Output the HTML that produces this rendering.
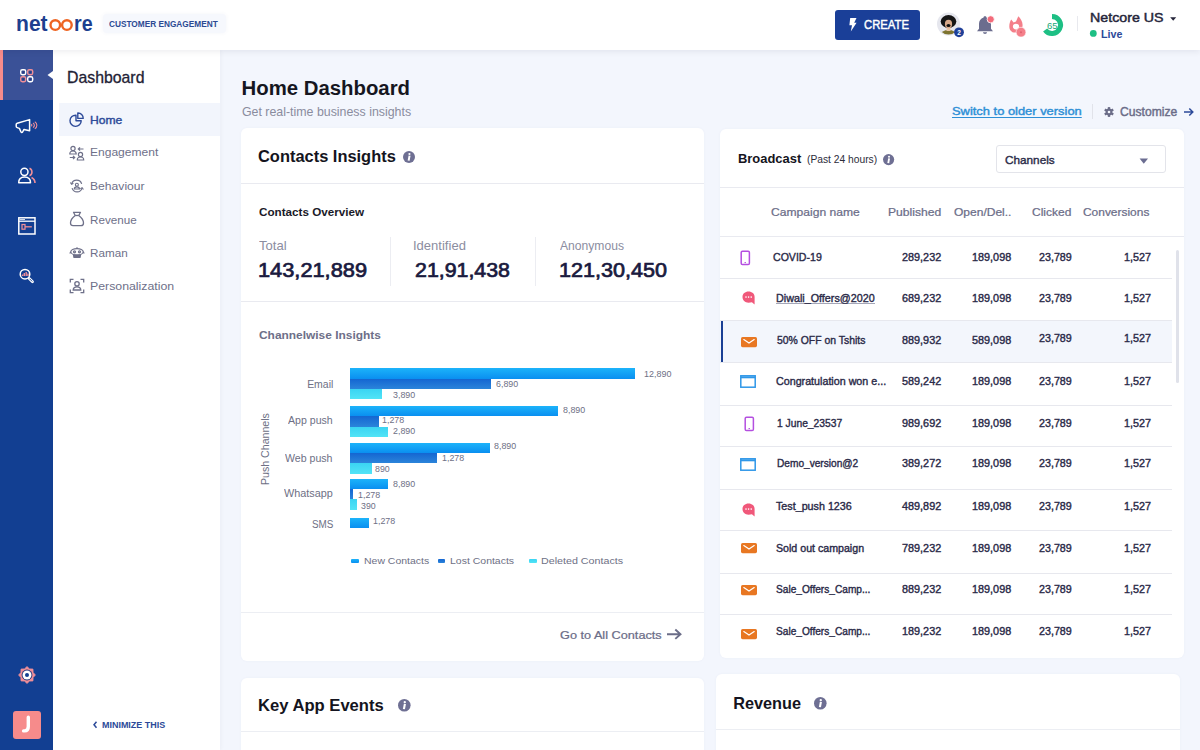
<!DOCTYPE html>
<html><head><meta charset="utf-8">
<style>
*{box-sizing:border-box;margin:0;padding:0}
html,body{width:1200px;height:750px;overflow:hidden;background:#f3f6fd;font-family:"Liberation Sans",sans-serif;color:#1d1d33;position:relative}
.a{position:absolute}
.t{position:absolute;white-space:nowrap}
.card{position:absolute;background:#fff;border-radius:6px}
.hl{position:absolute;height:1px;background:#e9eaf0}
svg{position:absolute;overflow:visible}

</style></head><body>
<div class="a" style="left:0.00px;top:50.00px;width:53.00px;height:700.00px;background:#123f92"></div>
<div class="a" style="left:0.00px;top:50.00px;width:53.00px;height:50.00px;background:#3a5197"></div>
<div class="a" style="left:0.00px;top:50.00px;width:3.00px;height:50.00px;background:#f68b8b"></div>
<div class="a" style="left:53.00px;top:50.00px;width:167.00px;height:700.00px;background:#fff;box-shadow:1px 0 4px rgba(20,20,40,.04)"></div>
<div class="a" style="left:59.00px;top:102.50px;width:161.00px;height:33.00px;background:#f2f5fc"></div>
<div class="a" style="left:0.00px;top:0.00px;width:1200.00px;height:50.00px;background:#fff;box-shadow:0 2px 6px rgba(20,20,40,.07)"></div>
<svg style="left:0.00px;top:0.00px" width="100" height="50" viewBox="0 0 100 50"><g fill="none" stroke="#ee6422" stroke-width="2.4"><circle cx="55.3" cy="25.1" r="4.8"/><circle cx="66.9" cy="25.1" r="4.8"/></g></svg>
<div class="a" style="left:103.00px;top:14.00px;width:123.00px;height:19.00px;background:#f6f8fd;border-radius:4px;box-shadow:0 0 4px rgba(60,80,160,.06)"></div>
<div class="a" style="left:835.00px;top:10.00px;width:85.00px;height:30.00px;background:#1a3f98;border-radius:3px"></div>
<svg style="left:849.00px;top:18.00px" width="8" height="14" viewBox="0 0 8 14"><path d="M1.2 0 L7.5 0 L5.2 4.8 L7.6 4.8 L1.8 13.5 L3 7.2 L0.4 7.2 Z" fill="#fff"/></svg>
<svg style="left:936.00px;top:12.00px" width="26" height="26" viewBox="0 0 26 26"><circle cx="12.5" cy="12" r="11.5" fill="#e6e7ee"/><clipPath id="avc"><circle cx="12.5" cy="12" r="10.5"/></clipPath><g clip-path="url(#avc)"><ellipse cx="12.5" cy="23" rx="8" ry="5" fill="#7d7430"/><rect x="10.5" y="14" width="4" height="5" fill="#e8c4a6"/><ellipse cx="12.5" cy="9.5" rx="7.8" ry="6.5" fill="#151515"/><ellipse cx="12.5" cy="12" rx="3.6" ry="4.2" fill="#d9a98a"/><ellipse cx="12.5" cy="13.6" rx="2" ry="1.5" fill="#111"/></g><circle cx="23" cy="20.3" r="4.9" fill="#1f3f98"/><text x="23" y="22.6" font-size="6.5" font-weight="bold" fill="#fff" text-anchor="middle" font-family="Liberation Sans">2</text></svg>
<svg style="left:976.00px;top:15.00px" width="20" height="20" viewBox="0 0 20 20"><path d="M9 1.2 C10 1.2 10.4 1.8 10.4 2.4 C13.5 3.2 15 5.8 15 9 L15 13.8 L17 16.3 L1 16.3 L3 13.8 L3 9 C3 5.8 4.5 3.2 7.6 2.4 C7.6 1.8 8 1.2 9 1.2 Z" fill="#6b6d8e"/><path d="M7 17.3 L11 17.3 C11 18.5 10 19 9 19 C8 19 7 18.5 7 17.3Z" fill="#6b6d8e"/><circle cx="14.7" cy="4.3" r="3.6" fill="#f36b7a" stroke="#fff" stroke-width="0.8"/></svg>
<svg style="left:1005.00px;top:12.00px" width="26" height="28" viewBox="0 0 26 28"><path d="M6.2 7.5 L8.6 10.4 L11 9.4 L13.3 4.3 C15.6 6.6 17.6 9.6 17.6 13 C17.6 17.5 14 20.6 9.8 20.6 C6.5 20.6 4.3 18 4.3 14.5 C4.3 11.5 5 9.5 6.2 7.5 Z" fill="#f47f8a"/><ellipse cx="11" cy="14.6" rx="3.1" ry="2.8" fill="#fff"/><circle cx="16" cy="20.2" r="4.9" fill="#f47f8a" stroke="#fff" stroke-width="0.6"/><circle cx="16" cy="20.2" r="1" fill="#e0606e"/></svg>
<svg style="left:1040.00px;top:13.00px" width="24" height="24" viewBox="0 0 24 24"><path d="M12 3.5 A8.5 8.5 0 1 1 5.12336 16.9962" fill="none" stroke="#1dbf84" stroke-width="5"/></svg>
<div class="a" style="left:1076.50px;top:16.00px;width:1.00px;height:15.00px;background:#e8e9ee"></div>
<svg style="left:1169.00px;top:16.00px" width="9" height="6" viewBox="0 0 9 6"><path d="M1.2 1.3 L7.2 1.3 L4.2 4.7Z" fill="#25253a"/></svg>
<svg style="left:1089.00px;top:29.00px" width="9" height="9" viewBox="0 0 9 9"><circle cx="4.3" cy="4.4" r="3.4" fill="#1dbf84"/></svg>
<svg style="left:46.00px;top:68.00px" width="8" height="14" viewBox="0 0 8 14"><path d="M1.5 7 L7 3 L7 11Z" fill="#fff"/></svg>
<svg style="left:19.00px;top:68.00px" width="16" height="16" viewBox="0 0 16 16"><rect x="1.7" y="1.7" width="5" height="5" rx="1.6" fill="none" stroke="#fff" stroke-width="1.4"/><rect x="3.4" y="3.4" width="1.6" height="1.6" fill="#253a80"/><rect x="8.7" y="1.7" width="5" height="5" rx="1.6" fill="none" stroke="#f08f98" stroke-width="1.4"/><rect x="10.4" y="3.4" width="1.6" height="1.6" fill="#253a80"/><rect x="1.7" y="8.7" width="5" height="5" rx="1.6" fill="none" stroke="#f08f98" stroke-width="1.4"/><rect x="3.4" y="10.4" width="1.6" height="1.6" fill="#253a80"/><rect x="8.7" y="8.7" width="5" height="5" rx="1.6" fill="none" stroke="#fff" stroke-width="1.4"/><rect x="10.4" y="10.4" width="1.6" height="1.6" fill="#253a80"/></svg>
<svg style="left:14.00px;top:117.00px" width="26" height="18" viewBox="0 0 26 18"><path d="M3.2 6.2 L15.6 2.6 L15.6 13.8 L10 12.4 L8.6 15 C8.2 15.7 7.4 15.7 7 15 L5.4 11.4 L3.2 10.6 C2.4 10.3 2.2 9.8 2.2 9.2 L2.2 7.5 C2.2 6.9 2.5 6.4 3.2 6.2 Z" fill="none" stroke="#fff" stroke-width="1.5" stroke-linejoin="round"/><g fill="none" stroke="#f08f98" stroke-width="1.1"><path d="M17.3 7.3 A1.2 1.2 0 0 1 17.3 9.3"/><path d="M19 6 A2.6 2.6 0 0 1 19 10.6"/><path d="M20.8 4.8 A4 4 0 0 1 20.8 11.8"/></g></svg>
<svg style="left:16.00px;top:166.00px" width="22" height="20" viewBox="0 0 22 20"><path d="M13.5 2.3 A4 4 0 0 1 13.5 9.7" fill="none" stroke="#f08f98" stroke-width="1.5"/><path d="M15.5 11.5 C17.5 12.5 19 14.5 19 17" fill="none" stroke="#f08f98" stroke-width="1.6"/><circle cx="8.4" cy="5.8" r="3.6" fill="none" stroke="#fff" stroke-width="1.5"/><path d="M2.7 16.8 C2.7 13 5.3 11 8.6 11 C11.9 11 14.5 13 14.5 16.8 Z" fill="none" stroke="#fff" stroke-width="1.5" stroke-linejoin="round"/></svg>
<svg style="left:16.00px;top:215.00px" width="22" height="22" viewBox="0 0 22 22"><rect x="2.8" y="2.8" width="16.2" height="16.2" fill="none" stroke="#fff" stroke-width="1.5"/><path d="M2.8 6.2 L19 6.2" stroke="#fff" stroke-width="1.3"/><path d="M3.5 4.5 L9 4.5" stroke="#fff" stroke-width="0.8"/><rect x="6" y="9.5" width="3" height="4.7" fill="none" stroke="#f08f98" stroke-width="1.2"/><path d="M9 11.8 L15.8 11.8" stroke="#f08f98" stroke-width="1.3"/></svg>
<svg style="left:17.00px;top:266.00px" width="20" height="20" viewBox="0 0 20 20"><circle cx="8" cy="8.2" r="4.8" fill="none" stroke="#fff" stroke-width="1.5"/><path d="M5.5 10 L5.5 8.5 M7.3 10 L7.3 7 M9.2 10 L9.2 6 M11 10 L11 7.5" stroke="#f08f98" stroke-width="1.4"/><path d="M12.2 12.4 L15.5 15.7" stroke="#fff" stroke-width="2.8" stroke-linecap="round"/><path d="M12.8 13 L15 15.2" stroke="#123f92" stroke-width="0.9" stroke-linecap="round"/></svg>
<svg style="left:16.60px;top:664.90px" width="20" height="20" viewBox="0 0 20 20"><g transform="translate(10 10)"><polygon points="0.00,-8.40 2.53,-6.10 5.94,-5.94 6.10,-2.53 8.40,0.00 6.10,2.53 5.94,5.94 2.53,6.10 0.00,8.40 -2.53,6.10 -5.94,5.94 -6.10,2.53 -8.40,0.00 -6.10,-2.53 -5.94,-5.94 -2.53,-6.10" fill="#f08f98" stroke="#f08f98" stroke-width="0.8" stroke-linejoin="round"/><circle r="5.4" fill="#1c2f78"/><circle r="4.5" fill="#fff"/><circle r="2" fill="#123f92"/></g></svg>
<div class="a" style="left:12.80px;top:710.80px;width:28.20px;height:28.20px;background:#f68b8b;border-radius:3px"></div>
<svg style="left:12.80px;top:710.80px" width="28" height="28" viewBox="0 0 28 28"><path d="M15.3 6.2 L15.3 15.6 C15.3 18.9 13.9 19.9 11.6 19.9 L10.6 19.9" fill="none" stroke="#fff" stroke-width="3.4" stroke-linecap="round"/></svg>
<svg style="left:68.00px;top:110.00px" width="18" height="18" viewBox="0 0 18 18"><path d="M8 5.2 A5.6 5.6 0 1 0 13.2 10.8 L8 10.8 Z" fill="none" stroke="#2d4a99" stroke-width="1.4" stroke-linejoin="round"/><path d="M9.8 3 A5.2 5.2 0 0 1 15.2 8.4 L9.8 8.4 Z" fill="none" stroke="#2d4a99" stroke-width="1.4" stroke-linejoin="round"/></svg>
<svg style="left:68.00px;top:144.00px" width="18" height="18" viewBox="0 0 18 18"><g fill="none" stroke="#6e7089" stroke-width="1.2"><circle cx="5" cy="4.5" r="2.1"/><path d="M1.8 10 C1.8 8 3.2 7 5 7 C6.8 7 8.2 8 8.2 10 Z"/><circle cx="12.5" cy="10.5" r="2.1"/><path d="M9.3 16 C9.3 14 10.7 13 12.5 13 C14.3 13 15.7 14 15.7 16 Z"/><path d="M15.5 5 L10.5 5 M12 3.3 L10.3 5 L12 6.7"/><path d="M1.8 13.5 L6.5 13.5 M5 11.8 L6.7 13.5 L5 15.2"/></g></svg>
<svg style="left:68.60px;top:178.60px" width="16" height="14.4" viewBox="0 0 16 14.4"><g fill="none" stroke="#6e7089" stroke-width="1.3" transform="scale(0.875)"><path d="M3 5.5 A6 6 0 0 1 14.5 5.5"/><path d="M15 10.5 A6 6 0 0 1 3.5 10.5"/><path d="M1.5 4 L3 6 L5 4.8"/><path d="M16.5 12 L15 10 L13 11.2"/><circle cx="9" cy="6.5" r="1.7"/><path d="M6 11.5 C6 9.8 7.3 9 9 9 C10.7 9 12 9.8 12 11.5 Z"/></g></svg>
<svg style="left:68.00px;top:210.00px" width="18" height="18" viewBox="0 0 18 18"><g fill="none" stroke="#6e7089" stroke-width="1.3" stroke-linejoin="round"><path d="M5.5 2.3 L12.5 2.3 L10.8 5.5 C13.5 7.5 15.5 10.5 15.5 13 C15.5 15 14.5 15.7 13 15.7 L5 15.7 C3.5 15.7 2.5 15 2.5 13 C2.5 10.5 4.5 7.5 7.2 5.5 Z"/><path d="M7.2 5.5 L10.8 5.5"/></g></svg>
<svg style="left:68.00px;top:246.00px" width="18" height="14" viewBox="0 0 18 14"><g fill="none" stroke="#6e7089" stroke-width="1.2"><ellipse cx="9" cy="5.8" rx="6.2" ry="3.2"/><path d="M2.8 5.8 L1.8 7.5 M15.2 5.8 L16.2 7.5"/><circle cx="6.5" cy="5.8" r="1"/><circle cx="11.5" cy="5.8" r="1"/><path d="M9 2.6 L9 1.2"/><path d="M5.5 9 L12.5 9 L12 11.5 L6 11.5Z" fill="#6e7089"/></g></svg>
<svg style="left:68.00px;top:277.00px" width="18" height="18" viewBox="0 0 18 18"><g fill="none" stroke="#6e7089" stroke-width="1.3"><path d="M2.3 5.5 L2.3 2.3 L5.5 2.3 M12.5 2.3 L15.7 2.3 L15.7 5.5 M15.7 12.5 L15.7 15.7 L12.5 15.7 M5.5 15.7 L2.3 15.7 L2.3 12.5"/><circle cx="9" cy="6.8" r="2.2"/><path d="M5.2 13 C5.2 10.8 6.8 9.8 9 9.8 C11.2 9.8 12.8 10.8 12.8 13 Z"/></g></svg>
<svg style="left:92.00px;top:720.00px" width="7" height="9" viewBox="0 0 7 9"><path d="M4.5 1.8 L2 4.8 L4.5 7.8" fill="none" stroke="#2c4a99" stroke-width="1.5"/></svg>
<div class="a" style="left:1092.20px;top:104.40px;width:1.00px;height:14.60px;background:#e1e3ea"></div>
<svg style="left:1104.00px;top:107.00px" width="10" height="10" viewBox="0 0 10 10"><g transform="translate(5 5)"><rect x="-1.2" y="-4.9" width="2.4" height="2.4" fill="#6b6d88" transform="rotate(0)"/><rect x="-1.2" y="-4.9" width="2.4" height="2.4" fill="#6b6d88" transform="rotate(60)"/><rect x="-1.2" y="-4.9" width="2.4" height="2.4" fill="#6b6d88" transform="rotate(120)"/><rect x="-1.2" y="-4.9" width="2.4" height="2.4" fill="#6b6d88" transform="rotate(180)"/><rect x="-1.2" y="-4.9" width="2.4" height="2.4" fill="#6b6d88" transform="rotate(240)"/><rect x="-1.2" y="-4.9" width="2.4" height="2.4" fill="#6b6d88" transform="rotate(300)"/><circle r="3.4" fill="#6b6d88"/><circle r="1.3" fill="#f3f6fd"/></g></svg>
<svg style="left:1183.00px;top:107.00px" width="12" height="10" viewBox="0 0 12 10"><path d="M1 5 L10 5 M6.3 1.5 L9.8 5 L6.3 8.5" fill="none" stroke="#2c4a99" stroke-width="1.5"/></svg>
<div class="a" style="left:241.00px;top:128.00px;width:463.00px;height:533.00px;background:#fff;border-radius:6px;box-shadow:0 0 3px rgba(60,70,140,.04)"></div>
<div class="a" style="left:720.00px;top:129.00px;width:464.00px;height:529.00px;background:#fff;border-radius:6px;box-shadow:0 0 3px rgba(60,70,140,.04)"></div>
<div class="a" style="left:241.00px;top:677.50px;width:463.00px;height:92.50px;background:#fff;border-radius:6px;box-shadow:0 0 3px rgba(60,70,140,.04)"></div>
<div class="a" style="left:716.00px;top:674.00px;width:464.00px;height:96.00px;background:#fff;border-radius:6px;box-shadow:0 0 3px rgba(60,70,140,.04)"></div>
<svg style="left:403.00px;top:150.50px" width="12" height="12" viewBox="0 0 12 12"><circle cx="6" cy="6" r="6" fill="#6e6f93"/><circle cx="6.45" cy="3" r="1.1" fill="#fff"/><path d="M6.55 4.6 L5.65 9.7" stroke="#fff" stroke-width="2"/></svg>
<div class="a" style="left:241.00px;top:183.00px;width:463.00px;height:1.00px;background:#e9eaf0"></div>
<div class="a" style="left:390.40px;top:236.70px;width:1.00px;height:48.90px;background:#ecedf2"></div>
<div class="a" style="left:535.10px;top:236.70px;width:1.00px;height:48.90px;background:#ecedf2"></div>
<div class="a" style="left:241.00px;top:300.80px;width:463.00px;height:1.00px;background:#e9eaf0"></div>
<div class="t" style="left:260.00px;top:484.50px;font-size:10.6px;line-height:10.6px;color:#6e7085;transform:rotate(-90deg);transform-origin:0 0;letter-spacing:0px">Push Channels</div>
<div class="a" style="left:350.20px;top:368.30px;width:284.80px;height:10.40px;background:linear-gradient(#1cb3fa,#0a8ff0)"></div>
<div class="a" style="left:350.20px;top:378.70px;width:140.70px;height:10.40px;background:linear-gradient(#1466d2,#2b84da)"></div>
<div class="a" style="left:350.20px;top:389.10px;width:31.80px;height:10.40px;background:linear-gradient(#3ad4f3,#52e4f6)"></div>
<div class="a" style="left:350.20px;top:405.75px;width:207.60px;height:10.40px;background:linear-gradient(#1cb3fa,#0a8ff0)"></div>
<div class="a" style="left:350.20px;top:416.15px;width:28.40px;height:10.40px;background:linear-gradient(#1466d2,#2b84da)"></div>
<div class="a" style="left:350.20px;top:426.55px;width:38.00px;height:10.40px;background:linear-gradient(#3ad4f3,#52e4f6)"></div>
<div class="a" style="left:350.20px;top:442.50px;width:139.70px;height:10.40px;background:linear-gradient(#1cb3fa,#0a8ff0)"></div>
<div class="a" style="left:350.20px;top:452.90px;width:86.70px;height:10.40px;background:linear-gradient(#1466d2,#2b84da)"></div>
<div class="a" style="left:350.20px;top:463.30px;width:21.80px;height:10.40px;background:linear-gradient(#3ad4f3,#52e4f6)"></div>
<div class="a" style="left:350.20px;top:478.50px;width:38.00px;height:10.40px;background:linear-gradient(#1cb3fa,#0a8ff0)"></div>
<div class="a" style="left:350.20px;top:488.90px;width:2.80px;height:10.40px;background:linear-gradient(#1466d2,#2b84da)"></div>
<div class="a" style="left:350.20px;top:499.30px;width:6.80px;height:10.40px;background:linear-gradient(#3ad4f3,#52e4f6)"></div>
<div class="a" style="left:350.20px;top:517.60px;width:18.90px;height:10.40px;background:linear-gradient(#1cb3fa,#0a8ff0)"></div>
<div class="a" style="left:350.60px;top:559.40px;width:8.20px;height:3.70px;background:linear-gradient(#1cb3fa,#0a8ff0);border-radius:1px"></div>
<div class="a" style="left:437.50px;top:559.40px;width:7.50px;height:3.70px;background:linear-gradient(#1466d2,#2b84da);border-radius:1px"></div>
<div class="a" style="left:528.80px;top:559.40px;width:8.20px;height:3.70px;background:linear-gradient(#3ad4f3,#52e4f6);border-radius:1px"></div>
<div class="a" style="left:241.00px;top:612.00px;width:463.00px;height:1.00px;background:#eceef3"></div>
<svg style="left:665.00px;top:628.00px" width="18" height="13" viewBox="0 0 18 13"><path d="M2 6.2 L15.5 6.2 M10.3 1.5 L15.5 6.2 L10.3 10.9" fill="none" stroke="#6b6d88" stroke-width="1.9"/></svg>
<svg style="left:397.90px;top:698.70px" width="12.6" height="12.6" viewBox="0 0 12.6 12.6"><circle cx="6.3" cy="6.3" r="6.3" fill="#6e6f93"/><circle cx="6.7725" cy="3.15" r="1.155" fill="#fff"/><path d="M6.8775 4.83 L5.9325 10.185" stroke="#fff" stroke-width="2.1"/></svg>
<div class="a" style="left:241.00px;top:730.80px;width:463.00px;height:1.00px;background:#eceef3"></div>
<svg style="left:814.20px;top:696.70px" width="12.6" height="12.6" viewBox="0 0 12.6 12.6"><circle cx="6.3" cy="6.3" r="6.3" fill="#6e6f93"/><circle cx="6.7725" cy="3.15" r="1.155" fill="#fff"/><path d="M6.8775 4.83 L5.9325 10.185" stroke="#fff" stroke-width="2.1"/></svg>
<div class="a" style="left:716.00px;top:728.70px;width:464.00px;height:1.00px;background:#eceef3"></div>
<svg style="left:883.10px;top:153.90px" width="11.2" height="11.2" viewBox="0 0 11.2 11.2"><circle cx="5.6" cy="5.6" r="5.6" fill="#6e6f93"/><circle cx="6.02" cy="2.8" r="1.02667" fill="#fff"/><path d="M6.11333 4.29333 L5.27333 9.05333" stroke="#fff" stroke-width="1.86667"/></svg>
<div class="a" style="left:995.60px;top:145.25px;width:170.40px;height:28.15px;border:1px solid #e3e4ea;border-radius:3px;background:#fff"></div>
<svg style="left:1138.00px;top:157.00px" width="12" height="8" viewBox="0 0 12 8"><path d="M1.6 1.6 L10 1.6 L5.8 6.7Z" fill="#6b6d91"/></svg>
<div class="a" style="left:720.00px;top:186.90px;width:464.00px;height:1.00px;background:#e9eaf0"></div>
<div class="a" style="left:720.00px;top:236.30px;width:464.00px;height:1.00px;background:#e9eaf0"></div>
<div class="a" style="left:720.00px;top:320.00px;width:452.00px;height:42.50px;background:#f3f6fc"></div>
<div class="a" style="left:720.80px;top:320.00px;width:2.40px;height:42.50px;background:#1a3f94"></div>
<div class="a" style="left:720.00px;top:277.90px;width:452.00px;height:1.00px;background:#e7e8ee"></div>
<div class="a" style="left:720.00px;top:319.50px;width:452.00px;height:1.00px;background:#e7e8ee"></div>
<div class="a" style="left:720.00px;top:361.80px;width:452.00px;height:1.00px;background:#e7e8ee"></div>
<div class="a" style="left:720.00px;top:404.80px;width:452.00px;height:1.00px;background:#e7e8ee"></div>
<div class="a" style="left:720.00px;top:445.90px;width:452.00px;height:1.00px;background:#e7e8ee"></div>
<div class="a" style="left:720.00px;top:489.10px;width:452.00px;height:1.00px;background:#e7e8ee"></div>
<div class="a" style="left:720.00px;top:529.90px;width:452.00px;height:1.00px;background:#e7e8ee"></div>
<div class="a" style="left:720.00px;top:572.90px;width:452.00px;height:1.00px;background:#e7e8ee"></div>
<div class="a" style="left:720.00px;top:614.10px;width:452.00px;height:1.00px;background:#e7e8ee"></div>
<div class="a" style="left:1175.50px;top:250.00px;width:3.50px;height:133.00px;background:#e0e2ea;border-radius:2px"></div>
<div class="a" style="left:776.30px;top:303.20px;width:98.70px;height:1.00px;background:#a4a6b8"></div>
<svg style="left:740.00px;top:250.00px" width="11" height="16" viewBox="0 0 11 16"><rect x="1.2" y="1.2" width="8.2" height="13.4" rx="1.3" fill="none" stroke="#b44fe0" stroke-width="1.5"/><path d="M4.5 12.6 L6 12.6" stroke="#b44fe0" stroke-width="1"/></svg>
<svg style="left:742.20px;top:291.00px" width="14" height="15" viewBox="0 0 14 15"><path d="M6.5 0.6 C10.1 0.6 12.6 2.9 12.6 6 L12.6 13.4 L9.9 11.3 C8.9 11.6 7.8 11.7 6.5 11.7 C3 11.7 0.5 9.3 0.5 6.1 C0.5 2.9 3 0.6 6.5 0.6 Z" fill="#f0587a"/><circle cx="4" cy="6.1" r="0.8" fill="#fff"/><circle cx="6.6" cy="6.1" r="0.8" fill="#fff"/><circle cx="9.2" cy="6.1" r="0.8" fill="#fff"/></svg>
<svg style="left:740.50px;top:336.80px" width="16" height="11" viewBox="0 0 16 11"><rect x="0" y="0" width="16" height="10.2" rx="1.6" fill="#e87722"/><path d="M2.8 2.6 L8 6 L13.2 2.6" fill="none" stroke="#fff" stroke-width="1.2" stroke-linecap="round"/></svg>
<svg style="left:740.30px;top:375.00px" width="17" height="14" viewBox="0 0 17 14"><rect x="0.8" y="0.8" width="14.4" height="11.4" fill="none" stroke="#2f97e8" stroke-width="1.5"/><path d="M0.8 2.3 L15.2 2.3" stroke="#2f97e8" stroke-width="2"/></svg>
<svg style="left:744.00px;top:415.50px" width="11" height="16" viewBox="0 0 11 16"><rect x="1.2" y="1.2" width="8.2" height="13.4" rx="1.3" fill="none" stroke="#b44fe0" stroke-width="1.5"/><path d="M4.5 12.6 L6 12.6" stroke="#b44fe0" stroke-width="1"/></svg>
<svg style="left:740.30px;top:458.20px" width="17" height="14" viewBox="0 0 17 14"><rect x="0.8" y="0.8" width="14.4" height="11.4" fill="none" stroke="#2f97e8" stroke-width="1.5"/><path d="M0.8 2.3 L15.2 2.3" stroke="#2f97e8" stroke-width="2"/></svg>
<svg style="left:742.20px;top:502.80px" width="14" height="15" viewBox="0 0 14 15"><path d="M6.5 0.6 C10.1 0.6 12.6 2.9 12.6 6 L12.6 13.4 L9.9 11.3 C8.9 11.6 7.8 11.7 6.5 11.7 C3 11.7 0.5 9.3 0.5 6.1 C0.5 2.9 3 0.6 6.5 0.6 Z" fill="#f0587a"/><circle cx="4" cy="6.1" r="0.8" fill="#fff"/><circle cx="6.6" cy="6.1" r="0.8" fill="#fff"/><circle cx="9.2" cy="6.1" r="0.8" fill="#fff"/></svg>
<svg style="left:740.80px;top:543.00px" width="16" height="11" viewBox="0 0 16 11"><rect x="0" y="0" width="16" height="10.2" rx="1.6" fill="#e87722"/><path d="M2.8 2.6 L8 6 L13.2 2.6" fill="none" stroke="#fff" stroke-width="1.2" stroke-linecap="round"/></svg>
<svg style="left:740.80px;top:584.50px" width="16" height="11" viewBox="0 0 16 11"><rect x="0" y="0" width="16" height="10.2" rx="1.6" fill="#e87722"/><path d="M2.8 2.6 L8 6 L13.2 2.6" fill="none" stroke="#fff" stroke-width="1.2" stroke-linecap="round"/></svg>
<svg style="left:741.00px;top:629.40px" width="16" height="11" viewBox="0 0 16 11"><rect x="0" y="0" width="16" height="10.2" rx="1.6" fill="#e87722"/><path d="M2.8 2.6 L8 6 L13.2 2.6" fill="none" stroke="#fff" stroke-width="1.2" stroke-linecap="round"/></svg>
<div class="t" style="left:109.40px;top:19.00px;font-size:9.30px;line-height:10.00px;font-weight:bold;color:#2c4a93;letter-spacing:0.000px;transform:scaleX(0.8893);transform-origin:0 0;">CUSTOMER ENGAGEMENT</div>
<div class="t" style="left:863.75px;top:18.00px;font-size:11.92px;line-height:14.00px;font-weight:normal;color:#ffffff;letter-spacing:0.000px;-webkit-text-stroke:0.42px #ffffff;transform:scaleX(0.9480);transform-origin:0 0;">CREATE</div>
<div class="t" style="left:1089.68px;top:11.00px;font-size:12.65px;line-height:14.00px;font-weight:normal;color:#25253a;letter-spacing:0.000px;-webkit-text-stroke:0.44px #25253a;transform:scaleX(1.1248);transform-origin:0 0;">Netcore US</div>
<div class="t" style="left:1100.60px;top:28.00px;font-size:11.34px;line-height:12.00px;font-weight:bold;color:#2c4a99;letter-spacing:0.000px;transform:scaleX(0.9433);transform-origin:0 0;">Live</div>
<div class="t" style="left:66.99px;top:69.00px;font-size:15.70px;line-height:17.00px;font-weight:normal;color:#1f2235;letter-spacing:0.000px;-webkit-text-stroke:0.31px #1f2235;transform:scaleX(1.0091);transform-origin:0 0;">Dashboard</div>
<div class="t" style="left:89.70px;top:114.00px;font-size:11.34px;line-height:12.00px;font-weight:normal;color:#2d4a99;letter-spacing:0.000px;-webkit-text-stroke:0.40px #2d4a99;transform:scaleX(1.0696);transform-origin:0 0;">Home</div>
<div class="t" style="left:89.80px;top:145.00px;font-size:11.63px;line-height:13.00px;font-weight:normal;color:#6e7089;letter-spacing:0.000px;transform:scaleX(1.0359);transform-origin:0 0;">Engagement</div>
<div class="t" style="left:89.80px;top:179.00px;font-size:11.63px;line-height:13.00px;font-weight:normal;color:#6e7089;letter-spacing:0.000px;transform:scaleX(1.0437);transform-origin:0 0;">Behaviour</div>
<div class="t" style="left:89.80px;top:213.00px;font-size:11.63px;line-height:13.00px;font-weight:normal;color:#6e7089;letter-spacing:0.000px;transform:scaleX(1.0040);transform-origin:0 0;">Revenue</div>
<div class="t" style="left:89.80px;top:246.00px;font-size:11.63px;line-height:13.00px;font-weight:normal;color:#6e7089;letter-spacing:0.000px;transform:scaleX(1.0063);transform-origin:0 0;">Raman</div>
<div class="t" style="left:89.80px;top:279.00px;font-size:11.63px;line-height:13.00px;font-weight:normal;color:#6e7089;letter-spacing:0.000px;transform:scaleX(1.0593);transform-origin:0 0;">Personalization</div>
<div class="t" style="left:101.90px;top:720.00px;font-size:9.30px;line-height:10.00px;font-weight:bold;color:#2c4a99;letter-spacing:0.000px;transform:scaleX(0.9634);transform-origin:0 0;">MINIMIZE THIS</div>
<div class="t" style="left:241.60px;top:77.00px;font-size:20.35px;line-height:22.00px;font-weight:bold;color:#16161f;letter-spacing:0.000px;">Home Dashboard</div>
<div class="t" style="left:242.00px;top:104.00px;font-size:12.79px;line-height:15.00px;font-weight:normal;color:#8a8c9e;letter-spacing:0.000px;transform:scaleX(0.9675);transform-origin:0 0;">Get real-time business insights</div>
<div class="t" style="left:952.00px;top:105.00px;font-size:11.34px;line-height:12.00px;font-weight:normal;color:#2d8fd6;letter-spacing:0.000px;text-decoration:underline;text-underline-offset:2px;-webkit-text-stroke:0.40px #2d8fd6;transform:scaleX(1.1385);transform-origin:0 0;">Switch to older version</div>
<div class="t" style="left:1120.30px;top:105.00px;font-size:12.21px;line-height:14.00px;font-weight:normal;color:#6b6d88;letter-spacing:0.000px;-webkit-text-stroke:0.43px #6b6d88;transform:scaleX(0.9932);transform-origin:0 0;">Customize</div>
<div class="t" style="left:257.50px;top:147.00px;font-size:16.35px;line-height:18.00px;font-weight:bold;color:#141420;letter-spacing:0.000px;transform:scaleX(1.0049);transform-origin:0 0;">Contacts Insights</div>
<div class="t" style="left:259.00px;top:206.00px;font-size:11.34px;line-height:12.00px;font-weight:bold;color:#1a1a28;letter-spacing:0.000px;transform:scaleX(1.0305);transform-origin:0 0;">Contacts Overview</div>
<div class="t" style="left:258.60px;top:239.00px;font-size:11.92px;line-height:14.00px;font-weight:normal;color:#8b8d9f;letter-spacing:0.000px;transform:scaleX(1.0978);transform-origin:0 0;">Total</div>
<div class="t" style="left:413.41px;top:239.00px;font-size:11.92px;line-height:14.00px;font-weight:normal;color:#8b8d9f;letter-spacing:0.000px;transform:scaleX(1.0942);transform-origin:0 0;">Identified</div>
<div class="t" style="left:560.00px;top:239.00px;font-size:11.92px;line-height:14.00px;font-weight:normal;color:#8b8d9f;letter-spacing:0.000px;transform:scaleX(1.0171);transform-origin:0 0;">Anonymous</div>
<div class="t" style="left:258.49px;top:259.00px;font-size:19.62px;line-height:22.00px;font-weight:normal;color:#1a1a3e;letter-spacing:0.000px;-webkit-text-stroke:0.69px #1a1a3e;transform:scaleX(1.1108);transform-origin:0 0;">143,21,889</div>
<div class="t" style="left:415.20px;top:259.00px;font-size:19.62px;line-height:22.00px;font-weight:normal;color:#1a1a3e;letter-spacing:0.000px;-webkit-text-stroke:0.69px #1a1a3e;transform:scaleX(1.0890);transform-origin:0 0;">21,91,438</div>
<div class="t" style="left:559.40px;top:259.00px;font-size:19.62px;line-height:22.00px;font-weight:normal;color:#1a1a3e;letter-spacing:0.000px;-webkit-text-stroke:0.69px #1a1a3e;transform:scaleX(1.1004);transform-origin:0 0;">121,30,450</div>
<div class="t" style="left:258.75px;top:328.00px;font-size:11.63px;line-height:13.00px;font-weight:bold;color:#6d6f88;letter-spacing:0.000px;transform:scaleX(1.0255);transform-origin:0 0;">Channelwise Insights</div>
<div class="t" style="left:307.15px;top:379.00px;font-size:10.47px;line-height:11.00px;font-weight:normal;color:#6e7085;letter-spacing:0.000px;">Email</div>
<div class="t" style="left:288.20px;top:415.00px;font-size:10.47px;line-height:11.00px;font-weight:normal;color:#6e7085;letter-spacing:0.000px;transform:scaleX(1.0100);transform-origin:0 0;">App push</div>
<div class="t" style="left:285.40px;top:453.00px;font-size:10.47px;line-height:11.00px;font-weight:normal;color:#6e7085;letter-spacing:0.000px;transform:scaleX(1.0114);transform-origin:0 0;">Web push</div>
<div class="t" style="left:284.00px;top:488.00px;font-size:10.47px;line-height:11.00px;font-weight:normal;color:#6e7085;letter-spacing:0.000px;transform:scaleX(1.0370);transform-origin:0 0;">Whatsapp</div>
<div class="t" style="left:311.60px;top:519.00px;font-size:10.47px;line-height:11.00px;font-weight:normal;color:#6e7085;letter-spacing:0.000px;transform:scaleX(0.9436);transform-origin:0 0;">SMS</div>
<div class="t" style="left:363.75px;top:556.00px;font-size:9.30px;line-height:10.00px;font-weight:normal;color:#6e7085;letter-spacing:0.000px;transform:scaleX(1.1267);transform-origin:0 0;">New Contacts</div>
<div class="t" style="left:450.00px;top:556.00px;font-size:9.30px;line-height:10.00px;font-weight:normal;color:#6e7085;letter-spacing:0.000px;transform:scaleX(1.1277);transform-origin:0 0;">Lost Contacts</div>
<div class="t" style="left:541.25px;top:556.00px;font-size:9.30px;line-height:10.00px;font-weight:normal;color:#6e7085;letter-spacing:0.000px;transform:scaleX(1.1512);transform-origin:0 0;">Deleted Contacts</div>
<div class="t" style="left:559.50px;top:628.00px;font-size:11.77px;line-height:13.00px;font-weight:normal;color:#6b6d88;letter-spacing:0.000px;-webkit-text-stroke:0.24px #6b6d88;transform:scaleX(1.0797);transform-origin:0 0;">Go to All Contacts</div>
<div class="t" style="left:258.22px;top:696.00px;font-size:16.86px;line-height:19.00px;font-weight:bold;color:#141420;letter-spacing:0.000px;transform:scaleX(0.9844);transform-origin:0 0;">Key App Events</div>
<div class="t" style="left:733.20px;top:694.00px;font-size:16.28px;line-height:18.00px;font-weight:bold;color:#141420;letter-spacing:0.000px;">Revenue</div>
<div class="t" style="left:738.25px;top:152.00px;font-size:12.43px;line-height:14.00px;font-weight:bold;color:#141420;letter-spacing:0.000px;transform:scaleX(1.0406);transform-origin:0 0;">Broadcast</div>
<div class="t" style="left:806.50px;top:154.00px;font-size:10.17px;line-height:11.00px;font-weight:normal;color:#2c2c3a;letter-spacing:0.000px;transform:scaleX(1.0101);transform-origin:0 0;">(Past 24 hours)</div>
<div class="t" style="left:1005.20px;top:153.00px;font-size:11.63px;line-height:13.00px;font-weight:normal;color:#2d2d4a;letter-spacing:0.000px;-webkit-text-stroke:0.41px #2d2d4a;transform:scaleX(1.0112);transform-origin:0 0;">Channels</div>
<div class="t" style="left:770.80px;top:206.00px;font-size:11.34px;line-height:12.00px;font-weight:normal;color:#6b6d88;letter-spacing:0.000px;-webkit-text-stroke:0.23px #6b6d88;transform:scaleX(1.0674);transform-origin:0 0;">Campaign name</div>
<div class="t" style="left:887.50px;top:206.00px;font-size:11.34px;line-height:12.00px;font-weight:normal;color:#6b6d88;letter-spacing:0.000px;-webkit-text-stroke:0.23px #6b6d88;transform:scaleX(1.0717);transform-origin:0 0;">Published</div>
<div class="t" style="left:954.00px;top:206.00px;font-size:11.34px;line-height:12.00px;font-weight:normal;color:#6b6d88;letter-spacing:0.000px;-webkit-text-stroke:0.23px #6b6d88;transform:scaleX(1.0610);transform-origin:0 0;">Open/Del..</div>
<div class="t" style="left:1032.30px;top:206.00px;font-size:11.34px;line-height:12.00px;font-weight:normal;color:#6b6d88;letter-spacing:0.000px;-webkit-text-stroke:0.23px #6b6d88;transform:scaleX(1.0586);transform-origin:0 0;">Clicked</div>
<div class="t" style="left:1083.00px;top:206.00px;font-size:11.34px;line-height:12.00px;font-weight:normal;color:#6b6d88;letter-spacing:0.000px;-webkit-text-stroke:0.23px #6b6d88;transform:scaleX(1.0537);transform-origin:0 0;">Conversions</div>
<div class="t" style="left:773.30px;top:251.00px;font-size:10.90px;line-height:12.00px;font-weight:normal;color:#2a2a48;letter-spacing:0.000px;-webkit-text-stroke:0.38px #2a2a48;transform:scaleX(0.9706);transform-origin:0 0;">COVID-19</div>
<div class="t" style="left:902.10px;top:251.00px;font-size:11.05px;line-height:12.00px;font-weight:normal;color:#2a2a48;letter-spacing:0.000px;-webkit-text-stroke:0.39px #2a2a48;transform:scaleX(0.9814);transform-origin:0 0;">289,232</div>
<div class="t" style="left:971.70px;top:251.00px;font-size:11.05px;line-height:12.00px;font-weight:normal;color:#2a2a48;letter-spacing:0.000px;-webkit-text-stroke:0.39px #2a2a48;transform:scaleX(0.9814);transform-origin:0 0;">189,098</div>
<div class="t" style="left:1038.70px;top:251.00px;font-size:11.05px;line-height:12.00px;font-weight:normal;color:#2a2a48;letter-spacing:0.000px;-webkit-text-stroke:0.39px #2a2a48;transform:scaleX(0.9701);transform-origin:0 0;">23,789</div>
<div class="t" style="left:1123.80px;top:251.00px;font-size:11.05px;line-height:12.00px;font-weight:normal;color:#2a2a48;letter-spacing:0.000px;-webkit-text-stroke:0.39px #2a2a48;transform:scaleX(0.9756);transform-origin:0 0;">1,527</div>
<div class="t" style="left:776.30px;top:292.00px;font-size:10.90px;line-height:12.00px;font-weight:normal;color:#2a2a48;letter-spacing:0.000px;-webkit-text-stroke:0.38px #2a2a48;transform:scaleX(0.9881);transform-origin:0 0;">Diwali_Offers@2020</div>
<div class="t" style="left:902.10px;top:292.00px;font-size:11.05px;line-height:12.00px;font-weight:normal;color:#2a2a48;letter-spacing:0.000px;-webkit-text-stroke:0.39px #2a2a48;transform:scaleX(0.9814);transform-origin:0 0;">689,232</div>
<div class="t" style="left:971.70px;top:292.00px;font-size:11.05px;line-height:12.00px;font-weight:normal;color:#2a2a48;letter-spacing:0.000px;-webkit-text-stroke:0.39px #2a2a48;transform:scaleX(0.9814);transform-origin:0 0;">189,098</div>
<div class="t" style="left:1038.70px;top:292.00px;font-size:11.05px;line-height:12.00px;font-weight:normal;color:#2a2a48;letter-spacing:0.000px;-webkit-text-stroke:0.39px #2a2a48;transform:scaleX(0.9701);transform-origin:0 0;">23,789</div>
<div class="t" style="left:1123.80px;top:292.00px;font-size:11.05px;line-height:12.00px;font-weight:normal;color:#2a2a48;letter-spacing:0.000px;-webkit-text-stroke:0.39px #2a2a48;transform:scaleX(0.9756);transform-origin:0 0;">1,527</div>
<div class="t" style="left:776.80px;top:334.00px;font-size:10.90px;line-height:12.00px;font-weight:normal;color:#2a2a48;letter-spacing:0.000px;-webkit-text-stroke:0.38px #2a2a48;transform:scaleX(0.9565);transform-origin:0 0;">50% OFF on Tshits</div>
<div class="t" style="left:902.10px;top:334.00px;font-size:11.05px;line-height:12.00px;font-weight:normal;color:#2a2a48;letter-spacing:0.000px;-webkit-text-stroke:0.39px #2a2a48;transform:scaleX(0.9814);transform-origin:0 0;">889,932</div>
<div class="t" style="left:971.70px;top:334.00px;font-size:11.05px;line-height:12.00px;font-weight:normal;color:#2a2a48;letter-spacing:0.000px;-webkit-text-stroke:0.39px #2a2a48;transform:scaleX(0.9814);transform-origin:0 0;">589,098</div>
<div class="t" style="left:1038.70px;top:332.00px;font-size:11.05px;line-height:12.00px;font-weight:normal;color:#2a2a48;letter-spacing:0.000px;-webkit-text-stroke:0.39px #2a2a48;transform:scaleX(0.9701);transform-origin:0 0;">23,789</div>
<div class="t" style="left:1123.80px;top:332.00px;font-size:11.05px;line-height:12.00px;font-weight:normal;color:#2a2a48;letter-spacing:0.000px;-webkit-text-stroke:0.39px #2a2a48;transform:scaleX(0.9756);transform-origin:0 0;">1,527</div>
<div class="t" style="left:776.30px;top:375.00px;font-size:10.90px;line-height:12.00px;font-weight:normal;color:#2a2a48;letter-spacing:0.000px;-webkit-text-stroke:0.38px #2a2a48;transform:scaleX(0.9833);transform-origin:0 0;">Congratulation won e...</div>
<div class="t" style="left:902.10px;top:375.00px;font-size:11.05px;line-height:12.00px;font-weight:normal;color:#2a2a48;letter-spacing:0.000px;-webkit-text-stroke:0.39px #2a2a48;transform:scaleX(0.9814);transform-origin:0 0;">589,242</div>
<div class="t" style="left:971.70px;top:375.00px;font-size:11.05px;line-height:12.00px;font-weight:normal;color:#2a2a48;letter-spacing:0.000px;-webkit-text-stroke:0.39px #2a2a48;transform:scaleX(0.9814);transform-origin:0 0;">189,098</div>
<div class="t" style="left:1038.70px;top:375.00px;font-size:11.05px;line-height:12.00px;font-weight:normal;color:#2a2a48;letter-spacing:0.000px;-webkit-text-stroke:0.39px #2a2a48;transform:scaleX(0.9701);transform-origin:0 0;">23,789</div>
<div class="t" style="left:1123.80px;top:375.00px;font-size:11.05px;line-height:12.00px;font-weight:normal;color:#2a2a48;letter-spacing:0.000px;-webkit-text-stroke:0.39px #2a2a48;transform:scaleX(0.9756);transform-origin:0 0;">1,527</div>
<div class="t" style="left:776.80px;top:417.00px;font-size:10.90px;line-height:12.00px;font-weight:normal;color:#2a2a48;letter-spacing:0.000px;-webkit-text-stroke:0.38px #2a2a48;transform:scaleX(0.9437);transform-origin:0 0;">1 June_23537</div>
<div class="t" style="left:902.10px;top:417.00px;font-size:11.05px;line-height:12.00px;font-weight:normal;color:#2a2a48;letter-spacing:0.000px;-webkit-text-stroke:0.39px #2a2a48;transform:scaleX(0.9814);transform-origin:0 0;">989,692</div>
<div class="t" style="left:971.70px;top:417.00px;font-size:11.05px;line-height:12.00px;font-weight:normal;color:#2a2a48;letter-spacing:0.000px;-webkit-text-stroke:0.39px #2a2a48;transform:scaleX(0.9814);transform-origin:0 0;">189,098</div>
<div class="t" style="left:1038.70px;top:417.00px;font-size:11.05px;line-height:12.00px;font-weight:normal;color:#2a2a48;letter-spacing:0.000px;-webkit-text-stroke:0.39px #2a2a48;transform:scaleX(0.9701);transform-origin:0 0;">23,789</div>
<div class="t" style="left:1123.80px;top:417.00px;font-size:11.05px;line-height:12.00px;font-weight:normal;color:#2a2a48;letter-spacing:0.000px;-webkit-text-stroke:0.39px #2a2a48;transform:scaleX(0.9756);transform-origin:0 0;">1,527</div>
<div class="t" style="left:776.80px;top:457.00px;font-size:10.90px;line-height:12.00px;font-weight:normal;color:#2a2a48;letter-spacing:0.000px;-webkit-text-stroke:0.38px #2a2a48;transform:scaleX(0.9304);transform-origin:0 0;">Demo_version@2</div>
<div class="t" style="left:902.10px;top:457.00px;font-size:11.05px;line-height:12.00px;font-weight:normal;color:#2a2a48;letter-spacing:0.000px;-webkit-text-stroke:0.39px #2a2a48;transform:scaleX(0.9814);transform-origin:0 0;">389,272</div>
<div class="t" style="left:971.70px;top:457.00px;font-size:11.05px;line-height:12.00px;font-weight:normal;color:#2a2a48;letter-spacing:0.000px;-webkit-text-stroke:0.39px #2a2a48;transform:scaleX(0.9814);transform-origin:0 0;">189,098</div>
<div class="t" style="left:1038.70px;top:457.00px;font-size:11.05px;line-height:12.00px;font-weight:normal;color:#2a2a48;letter-spacing:0.000px;-webkit-text-stroke:0.39px #2a2a48;transform:scaleX(0.9701);transform-origin:0 0;">23,789</div>
<div class="t" style="left:1123.80px;top:457.00px;font-size:11.05px;line-height:12.00px;font-weight:normal;color:#2a2a48;letter-spacing:0.000px;-webkit-text-stroke:0.39px #2a2a48;transform:scaleX(0.9756);transform-origin:0 0;">1,527</div>
<div class="t" style="left:776.30px;top:500.00px;font-size:10.90px;line-height:12.00px;font-weight:normal;color:#2a2a48;letter-spacing:0.000px;-webkit-text-stroke:0.38px #2a2a48;transform:scaleX(0.9851);transform-origin:0 0;">Test_push 1236</div>
<div class="t" style="left:902.10px;top:500.00px;font-size:11.05px;line-height:12.00px;font-weight:normal;color:#2a2a48;letter-spacing:0.000px;-webkit-text-stroke:0.39px #2a2a48;transform:scaleX(0.9814);transform-origin:0 0;">489,892</div>
<div class="t" style="left:971.70px;top:500.00px;font-size:11.05px;line-height:12.00px;font-weight:normal;color:#2a2a48;letter-spacing:0.000px;-webkit-text-stroke:0.39px #2a2a48;transform:scaleX(0.9814);transform-origin:0 0;">189,098</div>
<div class="t" style="left:1038.70px;top:500.00px;font-size:11.05px;line-height:12.00px;font-weight:normal;color:#2a2a48;letter-spacing:0.000px;-webkit-text-stroke:0.39px #2a2a48;transform:scaleX(0.9701);transform-origin:0 0;">23,789</div>
<div class="t" style="left:1123.80px;top:500.00px;font-size:11.05px;line-height:12.00px;font-weight:normal;color:#2a2a48;letter-spacing:0.000px;-webkit-text-stroke:0.39px #2a2a48;transform:scaleX(0.9756);transform-origin:0 0;">1,527</div>
<div class="t" style="left:776.00px;top:542.00px;font-size:10.90px;line-height:12.00px;font-weight:normal;color:#2a2a48;letter-spacing:0.000px;-webkit-text-stroke:0.38px #2a2a48;transform:scaleX(0.9761);transform-origin:0 0;">Sold out campaign</div>
<div class="t" style="left:902.10px;top:542.00px;font-size:11.05px;line-height:12.00px;font-weight:normal;color:#2a2a48;letter-spacing:0.000px;-webkit-text-stroke:0.39px #2a2a48;transform:scaleX(0.9814);transform-origin:0 0;">789,232</div>
<div class="t" style="left:971.70px;top:542.00px;font-size:11.05px;line-height:12.00px;font-weight:normal;color:#2a2a48;letter-spacing:0.000px;-webkit-text-stroke:0.39px #2a2a48;transform:scaleX(0.9814);transform-origin:0 0;">189,098</div>
<div class="t" style="left:1038.70px;top:542.00px;font-size:11.05px;line-height:12.00px;font-weight:normal;color:#2a2a48;letter-spacing:0.000px;-webkit-text-stroke:0.39px #2a2a48;transform:scaleX(0.9701);transform-origin:0 0;">23,789</div>
<div class="t" style="left:1123.80px;top:542.00px;font-size:11.05px;line-height:12.00px;font-weight:normal;color:#2a2a48;letter-spacing:0.000px;-webkit-text-stroke:0.39px #2a2a48;transform:scaleX(0.9756);transform-origin:0 0;">1,527</div>
<div class="t" style="left:776.00px;top:583.00px;font-size:10.90px;line-height:12.00px;font-weight:normal;color:#2a2a48;letter-spacing:0.000px;-webkit-text-stroke:0.38px #2a2a48;transform:scaleX(0.9303);transform-origin:0 0;">Sale_Offers_Camp...</div>
<div class="t" style="left:902.10px;top:583.00px;font-size:11.05px;line-height:12.00px;font-weight:normal;color:#2a2a48;letter-spacing:0.000px;-webkit-text-stroke:0.39px #2a2a48;transform:scaleX(0.9814);transform-origin:0 0;">889,232</div>
<div class="t" style="left:971.70px;top:583.00px;font-size:11.05px;line-height:12.00px;font-weight:normal;color:#2a2a48;letter-spacing:0.000px;-webkit-text-stroke:0.39px #2a2a48;transform:scaleX(0.9814);transform-origin:0 0;">189,098</div>
<div class="t" style="left:1038.70px;top:583.00px;font-size:11.05px;line-height:12.00px;font-weight:normal;color:#2a2a48;letter-spacing:0.000px;-webkit-text-stroke:0.39px #2a2a48;transform:scaleX(0.9701);transform-origin:0 0;">23,789</div>
<div class="t" style="left:1123.80px;top:583.00px;font-size:11.05px;line-height:12.00px;font-weight:normal;color:#2a2a48;letter-spacing:0.000px;-webkit-text-stroke:0.39px #2a2a48;transform:scaleX(0.9756);transform-origin:0 0;">1,527</div>
<div class="t" style="left:776.00px;top:625.00px;font-size:10.90px;line-height:12.00px;font-weight:normal;color:#2a2a48;letter-spacing:0.000px;-webkit-text-stroke:0.38px #2a2a48;transform:scaleX(0.9303);transform-origin:0 0;">Sale_Offers_Camp...</div>
<div class="t" style="left:902.10px;top:625.00px;font-size:11.05px;line-height:12.00px;font-weight:normal;color:#2a2a48;letter-spacing:0.000px;-webkit-text-stroke:0.39px #2a2a48;transform:scaleX(0.9814);transform-origin:0 0;">189,232</div>
<div class="t" style="left:971.70px;top:625.00px;font-size:11.05px;line-height:12.00px;font-weight:normal;color:#2a2a48;letter-spacing:0.000px;-webkit-text-stroke:0.39px #2a2a48;transform:scaleX(0.9814);transform-origin:0 0;">189,098</div>
<div class="t" style="left:1038.70px;top:625.00px;font-size:11.05px;line-height:12.00px;font-weight:normal;color:#2a2a48;letter-spacing:0.000px;-webkit-text-stroke:0.39px #2a2a48;transform:scaleX(0.9701);transform-origin:0 0;">23,789</div>
<div class="t" style="left:1123.80px;top:625.00px;font-size:11.05px;line-height:12.00px;font-weight:normal;color:#2a2a48;letter-spacing:0.000px;-webkit-text-stroke:0.39px #2a2a48;transform:scaleX(0.9756);transform-origin:0 0;">1,527</div>
<div class="t" style="left:643.75px;top:369.00px;font-size:8.79px;line-height:10.00px;font-weight:normal;color:#6e7085;letter-spacing:0.000px;transform:scaleX(1.0195);transform-origin:0 0;">12,890</div>
<div class="t" style="left:496.25px;top:379.00px;font-size:8.79px;line-height:10.00px;font-weight:normal;color:#6e7085;letter-spacing:0.000px;transform:scaleX(1.0095);transform-origin:0 0;">6,890</div>
<div class="t" style="left:392.50px;top:390.00px;font-size:8.79px;line-height:10.00px;font-weight:normal;color:#6e7085;letter-spacing:0.000px;transform:scaleX(1.0095);transform-origin:0 0;">3,890</div>
<div class="t" style="left:562.60px;top:405.00px;font-size:8.79px;line-height:10.00px;font-weight:normal;color:#6e7085;letter-spacing:0.000px;transform:scaleX(1.0095);transform-origin:0 0;">8,890</div>
<div class="t" style="left:381.90px;top:415.00px;font-size:8.79px;line-height:10.00px;font-weight:normal;color:#6e7085;letter-spacing:0.000px;transform:scaleX(1.0095);transform-origin:0 0;">1,278</div>
<div class="t" style="left:393.00px;top:426.00px;font-size:8.79px;line-height:10.00px;font-weight:normal;color:#6e7085;letter-spacing:0.000px;transform:scaleX(1.0095);transform-origin:0 0;">2,890</div>
<div class="t" style="left:493.50px;top:441.00px;font-size:8.79px;line-height:10.00px;font-weight:normal;color:#6e7085;letter-spacing:0.000px;transform:scaleX(1.0095);transform-origin:0 0;">8,890</div>
<div class="t" style="left:441.75px;top:453.00px;font-size:8.79px;line-height:10.00px;font-weight:normal;color:#6e7085;letter-spacing:0.000px;transform:scaleX(1.0095);transform-origin:0 0;">1,278</div>
<div class="t" style="left:375.00px;top:464.00px;font-size:8.79px;line-height:10.00px;font-weight:normal;color:#6e7085;letter-spacing:0.000px;">890</div>
<div class="t" style="left:392.80px;top:479.00px;font-size:8.79px;line-height:10.00px;font-weight:normal;color:#6e7085;letter-spacing:0.000px;transform:scaleX(1.0095);transform-origin:0 0;">8,890</div>
<div class="t" style="left:357.80px;top:490.00px;font-size:8.79px;line-height:10.00px;font-weight:normal;color:#6e7085;letter-spacing:0.000px;transform:scaleX(1.0095);transform-origin:0 0;">1,278</div>
<div class="t" style="left:361.00px;top:501.00px;font-size:8.79px;line-height:10.00px;font-weight:normal;color:#6e7085;letter-spacing:0.000px;">390</div>
<div class="t" style="left:373.00px;top:516.00px;font-size:8.79px;line-height:10.00px;font-weight:normal;color:#6e7085;letter-spacing:0.000px;transform:scaleX(1.0095);transform-origin:0 0;">1,278</div>
<div class="t" style="left:15.83px;top:11.00px;font-size:21.80px;line-height:25.00px;font-weight:bold;color:#1d3f8f;letter-spacing:0.000px;transform:scaleX(0.9670);transform-origin:0 0;">net</div>
<div class="t" style="left:74.10px;top:11.00px;font-size:21.80px;line-height:25.00px;font-weight:bold;color:#1d3f8f;letter-spacing:0.000px;transform:scaleX(0.9034);transform-origin:0 0;">re</div>
<div class="t" style="left:1046.50px;top:21.00px;font-size:9.16px;line-height:10.00px;font-weight:normal;color:#1aa877;letter-spacing:0.000px;transform:scaleX(1.0413);transform-origin:0 0;">65</div>
</body></html>
